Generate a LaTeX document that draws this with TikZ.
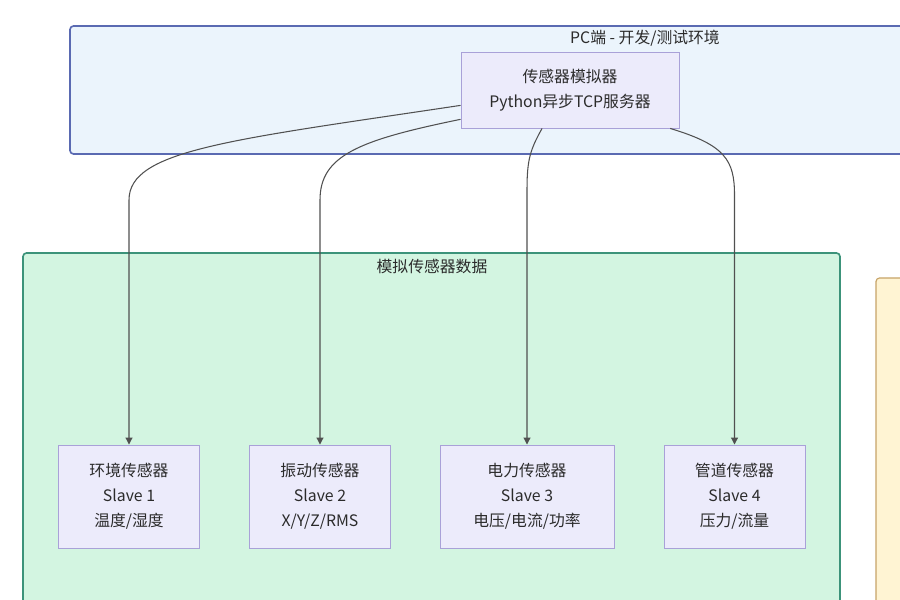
\documentclass[tikz,border=0pt]{standalone}
\usepackage{fontspec}
\setmainfont{Noto Sans CJK SC}
\usetikzlibrary{arrows.meta}
\definecolor{pcfill}{HTML}{EBF4FC}
\definecolor{pcline}{HTML}{5A6AB2}
\definecolor{gfill}{HTML}{D3F5E1}
\definecolor{gline}{HTML}{3C937A}
\definecolor{yfill}{HTML}{FFF4D3}
\definecolor{yline}{HTML}{C7A468}
\definecolor{nfill}{HTML}{ECEBFB}
\definecolor{nline}{HTML}{A9A1D8}
\definecolor{txt}{HTML}{2B2B2B}
\definecolor{edge}{HTML}{505050}
\tikzset{
  grp/.style={rounded corners=3pt, line width=1.4pt},
  nodebox/.style={draw=nline, fill=nfill, line width=0.8pt, align=center, text=txt,
     font=\fontsize{13.5}{21.3}\selectfont, inner sep=0pt},
  title/.style={text=txt, font=\fontsize{13.5}{16}\selectfont, inner sep=0pt},
  arr/.style={draw=edge, line width=0.9pt, -{Triangle[length=6pt,width=6pt]}},
}
\begin{document}
\begin{tikzpicture}[x=0.03cm,y=-0.03cm]
\useasboundingbox (0,0) rectangle (900,600);
\clip (0,0) rectangle (900,600);
\fill[white] (0,0) rectangle (900,600);
% groups
\draw[grp, draw=pcline, fill=pcfill] (70,26) rectangle (930,154);
\node[title] (pct) at (645,38) {PC端 - 开发/测试环境};
\draw[grp, draw=gline, fill=gfill] (23,253) rectangle (840,640);
\node[title] (gt) at (432,266) {模拟传感器数据};
\draw[grp, draw=yline, fill=yfill, line width=1pt] (876,278) rectangle (960,640);
% nodes
\node[nodebox, minimum width=6.54cm, minimum height=2.28cm] (sim) at (570,90)
  {传感器模拟器\\Python异步TCP服务器};
\node[nodebox, minimum width=4.23cm, minimum height=3.09cm] (s1) at (129,496.5)
  {环境传感器\\Slave 1\\温度/湿度};
\node[nodebox, minimum width=4.23cm, minimum height=3.09cm] (s2) at (320,496.5)
  {振动传感器\\Slave 2\\X/Y/Z/RMS};
\node[nodebox, minimum width=5.22cm, minimum height=3.09cm] (s3) at (527,496.5)
  {电力传感器\\Slave 3\\电压/电流/功率};
\node[nodebox, minimum width=4.23cm, minimum height=3.09cm] (s4) at (734.5,496.5)
  {管道传感器\\Slave 4\\压力/流量};
% bends
\coordinate (k1) at (0,200);
\coordinate (k2) at (0,200);
\coordinate (k3) at (0,190);
\coordinate (k4) at (0,195);
% connectors
\draw[arr] (sim.188) .. controls (230,140) and (129,150) .. (s1.north |- k1) -- (s1.north);
\draw[arr] (sim.195) .. controls (360,140) and (320,155) .. (s2.north |- k2) -- (s2.north);
\draw[arr] (sim.234.6) .. controls (530,150) and (527,160) .. (s3.north |- k3) -- (s3.north);
\draw[arr] (sim.339.6) .. controls (725,145) and (734.5,160) .. (s4.north |- k4) -- (s4.north);
\end{tikzpicture}
\end{document}
